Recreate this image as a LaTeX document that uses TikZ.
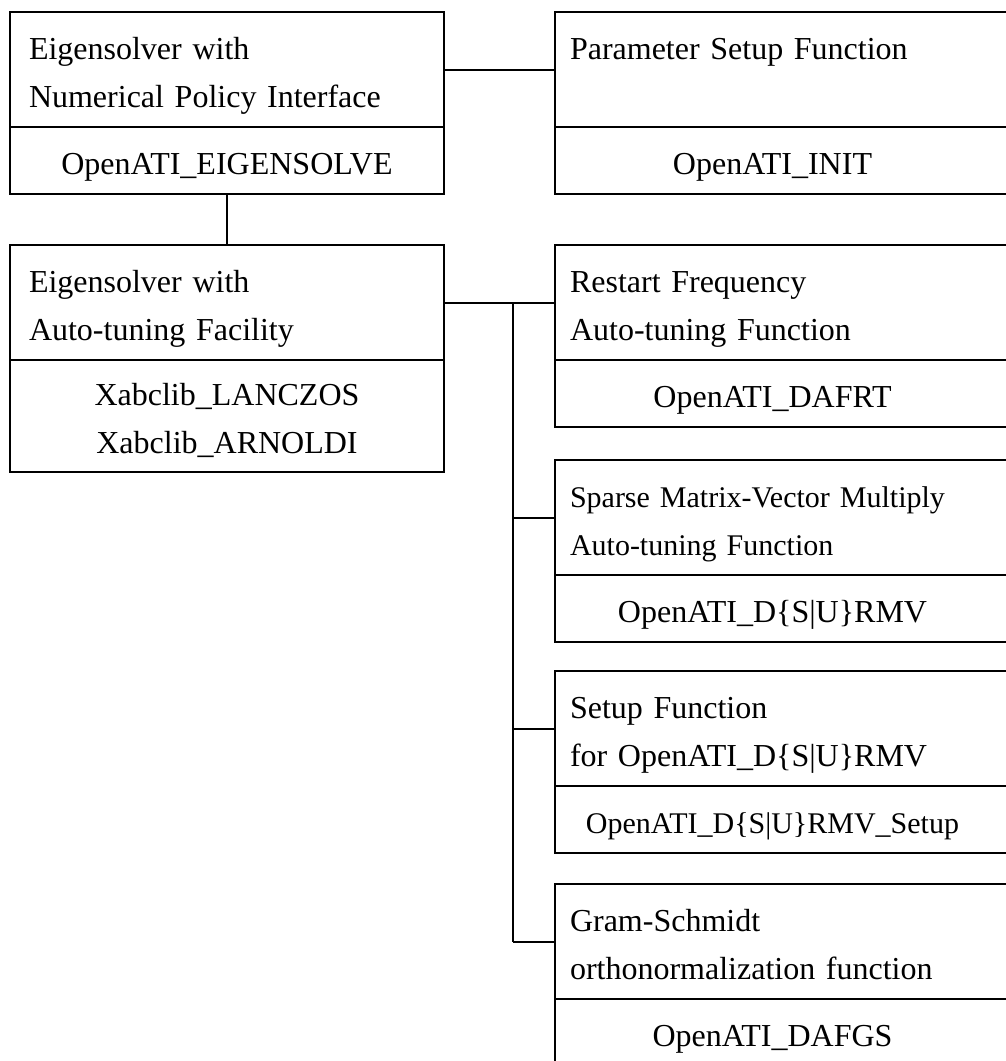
\documentclass[tikz,border=0pt]{standalone}
\usepackage{fontspec}
\setmainfont{Liberation Serif}
\usetikzlibrary{positioning}
\newcommand{\ls}{\rule[-10.5pt]{0pt}{48pt}}
\newcommand{\cbox}[1]{\makebox[405pt]{#1}}
\begin{document}
\begin{tikzpicture}[x=1pt,y=-1pt,line width=1.5pt,
		every node/.style={font=\fontsize{32}{48}\selectfont,outer sep=0pt},
		upbox/.style={draw,anchor=north west,inner xsep=19pt,inner ysep=9.5pt,text width=396pt,align=left},
		lowbox/.style={draw,below=0pt of #1,inner xsep=19pt,inner ysep=9.5pt,text width=396pt,align=center},
		rup/.style={upbox,inner xsep=15pt,text width=440pt},
		rlow/.style={lowbox=#1,inner xsep=15pt,text width=440pt,align=left},
		link/.style={line width=2pt}]
		\useasboundingbox (0,0) rectangle (1006,1061);
		\clip (0,0) rectangle (1006,1061);
		% left column
		\node[upbox] (eigtop) at (10,12) {\ls Eigensolver with\\\ls Numerical Policy Interface};
		\node[lowbox=eigtop] (eigbot) {\ls OpenATI\_EIGENSOLVE};
		\node[upbox] (atetop) at (10,245) {\ls Eigensolver with\\\ls Auto-tuning Facility};
		\node[lowbox=atetop,inner ysep=8pt] (atebot) {\ls Xabclib\_LANCZOS\\\ls Xabclib\_ARNOLDI};
		% right column
		\node[rup] (inittop) at (555,12) {\ls Parameter Setup Function\\\ls};
		\node[rlow=inittop] (initbot) {\ls\cbox{OpenATI\_INIT}};
		\node[rup] (frttop) at (555,245) {\ls Restart Frequency\\\ls Auto-tuning Function};
		\node[rlow=frttop] (frtbot) {\ls\cbox{OpenATI\_DAFRT}};
		\node[rup,font=\fontsize{30}{48}\selectfont] (rmvtop) at (555,460) {\ls Sparse Matrix-Vector Multiply\\\ls Auto-tuning Function};
		\node[rlow=rmvtop] (rmvbot) {\ls\cbox{OpenATI\_D\{S|U\}RMV}};
		\node[rup] (setuptop) at (555,671) {\ls Setup Function\\\ls for OpenATI\_D\{S|U\}RMV};
		\node[rlow=setuptop,font=\fontsize{30}{48}\selectfont] (setupbot) {\ls\cbox{OpenATI\_D\{S|U\}RMV\_Setup}};
		\node[rup] (gstop) at (555,884) {\ls Gram-Schmidt\\\ls orthonormalization function};
		\node[rlow=gstop] (gsbot) {\ls\cbox{OpenATI\_DAFGS}};
		% connectors
		\coordinate (bus) at (513,0);
		\draw[link] (eigtop.east)--(inittop.west);
		\draw[link] (eigbot.south)--(atetop.north);
		\draw[link] (atetop.east)--(frttop.west);
		\draw[link] (bus |- atetop.east)--(bus |- gstop.west);
		\foreach \n in {rmvtop,setuptop,gstop}{
			\draw[link] (bus |- \n.west)--(\n.west);
		}
	\end{tikzpicture}
\end{document}
